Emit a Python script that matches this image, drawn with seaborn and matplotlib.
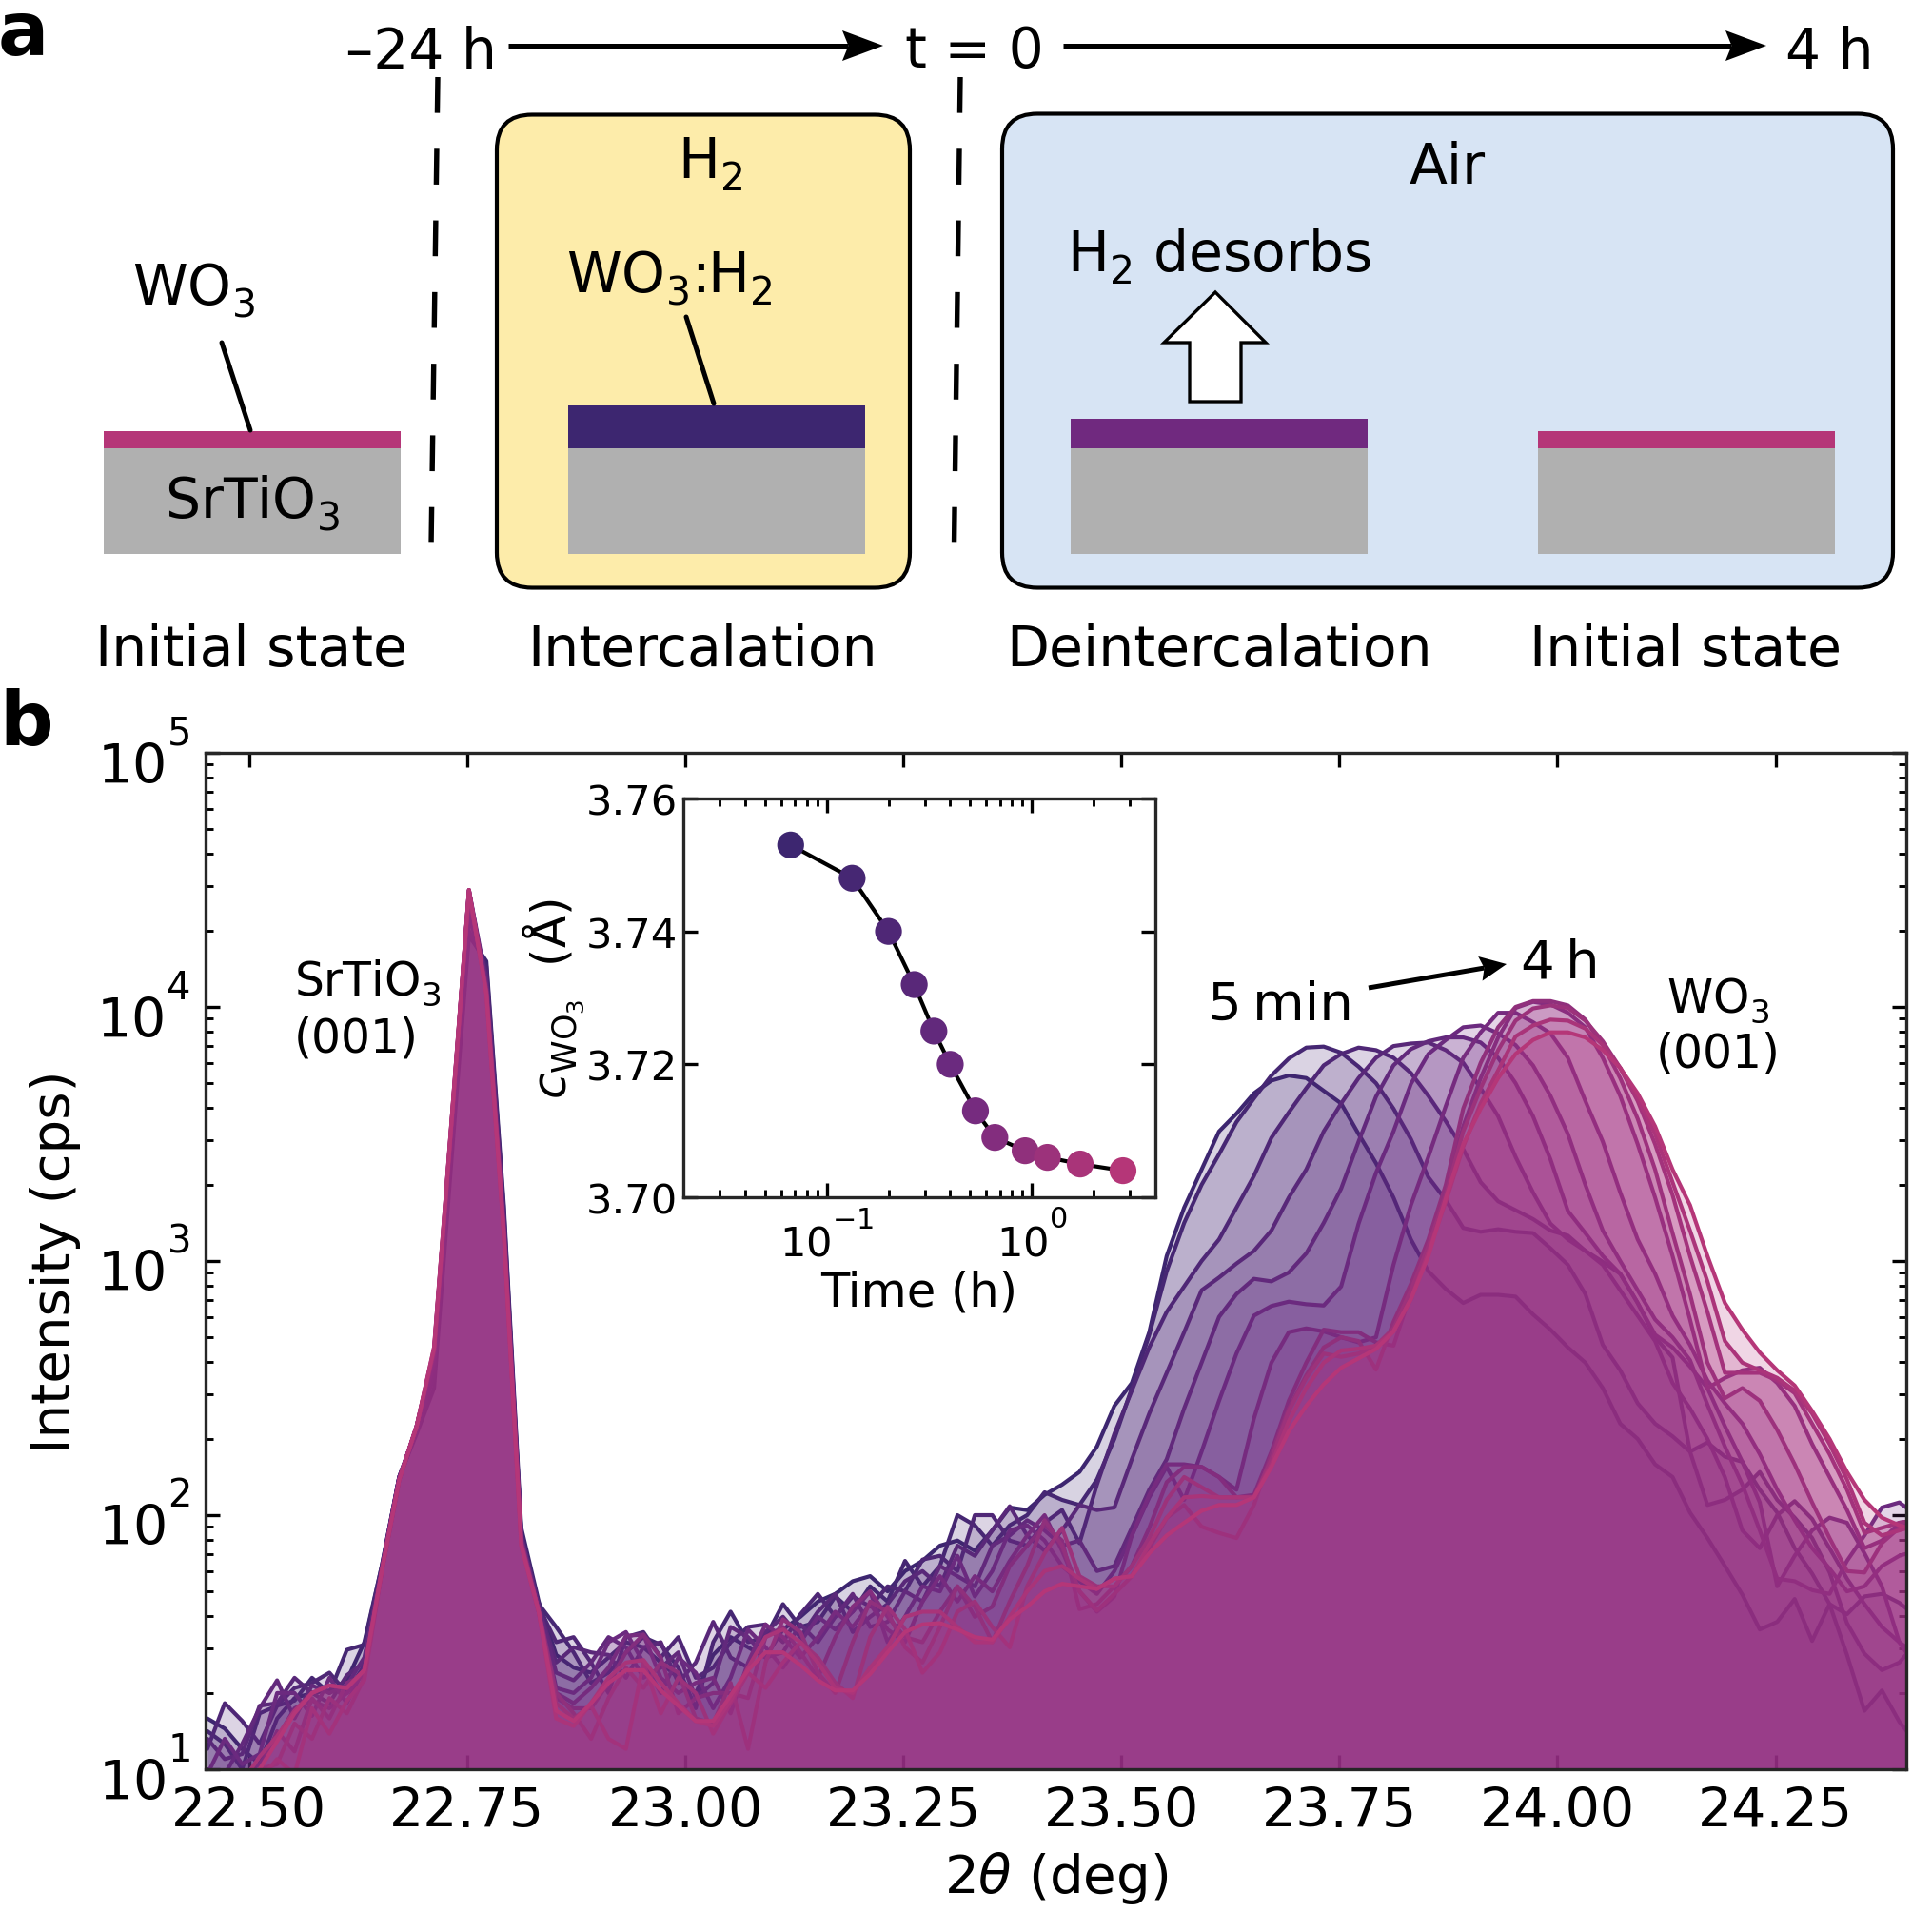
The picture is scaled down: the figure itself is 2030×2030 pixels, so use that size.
import numpy as np
import seaborn as sns
from matplotlib import _mathtext
from matplotlib import pyplot as plt
from matplotlib.patches import FancyBboxPatch, Polygon, Rectangle
from matplotlib.ticker import LogLocator, NullFormatter

# scan grid in 2theta (deg), 0.02 deg step
two_theta = np.linspace(22.452, 24.412, 99)

# log10(cps), split as: left floor, STO peak, floor, WO3 peak + tail
log_s0 = [1.20, 1.16, 1.08, 1.02, 1.20, 1.28, 1.30, 1.31, 1.35, 1.50,
          1.80, 2.15, 2.32, 2.50, 3.40, 4.28, 4.18, 3.22, 1.95, 1.66,
          1.45, 1.40, 1.38, 1.44, 1.50, 1.48, 1.42, 1.36, 1.30, 1.45, 1.52, 1.48, 1.44, 1.55, 1.60,
          1.66, 1.69, 1.74, 1.76, 1.70, 1.78, 1.82, 1.88, 1.90, 1.86, 1.94, 2.03, 2.02, 2.08, 2.12,
          2.17, 2.27, 2.43, 2.52, 2.72, 3.02, 3.21, 3.36, 3.51, 3.58, 3.66, 3.71, 3.73, 3.72, 3.67, 3.62, 3.50,
          3.385, 3.25, 3.085, 2.96, 2.89, 2.835, 2.867, 2.867, 2.86, 2.79, 2.73, 2.66, 2.60, 2.50, 2.36, 2.30,
          2.20, 2.15, 2.01, 1.91, 1.80, 1.687, 1.55, 1.58, 1.67, 1.505, 1.65, 1.45, 1.23, 1.31, 1.187, 1.10]
log_s1 = [1.15, 1.10, 1.00, 1.22, 1.25, 1.27, 1.36, 1.30, 1.47, 1.49,
          1.80, 2.15, 2.33, 2.55, 3.45, 4.30, 4.16, 3.20, 1.93, 1.65,
          1.56, 1.46, 1.34, 1.38, 1.46, 1.52, 1.49, 1.40, 1.24, 1.50, 1.62, 1.50, 1.52, 1.65, 1.56,
          1.58, 1.68, 1.62, 1.72, 1.66, 1.82, 1.72, 1.80, 2.00, 1.96, 1.88, 1.96, 2.00, 2.09, 2.06,
          2.04, 2.14, 2.30, 2.50, 2.71, 2.96, 3.15, 3.30, 3.42, 3.547, 3.64, 3.73, 3.797, 3.84, 3.844, 3.82, 3.765,
          3.70, 3.60, 3.48, 3.33, 3.24, 3.13, 3.115, 3.125, 3.115, 3.11, 3.05, 2.985, 2.87, 2.67, 2.57, 2.44,
          2.36, 2.31, 2.25, 2.286, 2.23, 2.21, 2.10, 2.01, 1.87, 1.77, 1.65, 1.61, 1.68, 1.69, 1.655, 1.60]
log_s2 = [1.08, 1.26, 1.19, 1.10, 1.25, 1.32, 1.34, 1.38, 1.30, 1.41,
          1.79, 2.15, 2.33, 2.58, 3.48, 4.35, 4.14, 3.18, 1.92, 1.64,
          1.50, 1.52, 1.42, 1.30, 1.52, 1.54, 1.44, 1.52, 1.36, 1.40, 1.50, 1.56, 1.57, 1.50, 1.61,
          1.69, 1.60, 1.68, 1.64, 1.72, 1.70, 1.825, 1.84, 1.78, 2.00, 2.00, 1.90, 1.88, 1.97, 2.02,
          1.89, 2.12, 2.32, 2.49, 2.66, 2.80, 2.90, 3.00, 3.085, 3.21, 3.335, 3.485, 3.585, 3.68, 3.77, 3.815, 3.84,
          3.83, 3.80, 3.74, 3.65, 3.55, 3.44, 3.31, 3.235, 3.20, 3.165, 3.12, 3.10, 3.04, 2.997, 2.95, 2.835,
          2.70, 2.62, 2.25, 2.04, 2.06, 2.10, 2.17, 2.06, 1.99, 1.91, 1.775, 1.575, 1.455, 1.39, 1.42, 1.50]
log_s3 = [1.12, 1.04, 1.06, 1.25, 1.26, 1.36, 1.30, 1.26, 1.37, 1.42,
          1.79, 2.15, 2.34, 2.60, 3.50, 4.40, 4.12, 3.16, 1.92, 1.64,
          1.42, 1.48, 1.46, 1.45, 1.36, 1.48, 1.50, 1.34, 1.42, 1.58, 1.44, 1.40, 1.54, 1.60, 1.52,
          1.62, 1.69, 1.54, 1.60, 1.65, 1.74, 1.78, 1.72, 1.88, 1.84, 1.94, 2.035, 1.92, 1.86, 1.94,
          2.04, 2.02, 2.03, 2.22, 2.40, 2.56, 2.72, 2.885, 2.935, 2.99, 3.04, 3.12, 3.25, 3.36, 3.51, 3.62, 3.72,
          3.80, 3.846, 3.856, 3.86, 3.83, 3.78, 3.68, 3.57, 3.41, 3.27, 3.147, 3.085, 3.04, 2.985, 2.885, 2.785,
          2.685, 2.52, 2.42, 2.30, 2.15, 1.94, 1.87, 2.00, 2.055, 1.985, 1.87, 1.75, 1.65, 1.56, 1.50, 1.45]
log_s4 = [1.00, 0.98, 1.10, 1.24, 1.35, 1.20, 1.33, 1.30, 1.33, 1.44,
          1.79, 2.15, 2.34, 2.62, 3.52, 4.46, 4.10, 3.15, 1.91, 1.64,
          1.38, 1.35, 1.42, 1.52, 1.48, 1.36, 1.40, 1.46, 1.28, 1.34, 1.56, 1.52, 1.44, 1.46, 1.57,
          1.50, 1.60, 1.69, 1.56, 1.58, 1.70, 1.66, 1.80, 1.76, 1.72, 1.88, 1.92, 1.98, 1.94, 1.88,
          1.90, 1.78, 1.80, 1.95, 2.10, 2.22, 2.42, 2.60, 2.78, 2.87, 2.93, 2.92, 2.955, 3.03, 3.15, 3.285, 3.47,
          3.647, 3.77, 3.834, 3.865, 3.88, 3.88, 3.86, 3.80, 3.70, 3.57, 3.40, 3.197, 3.11, 3.02, 2.95, 2.835,
          2.71, 2.66, 2.585, 2.50, 2.35, 2.21, 2.05, 1.72, 1.84, 1.94, 1.99, 1.97, 1.85, 1.72, 1.50, 1.40]
log_s5 = [0.98, 1.12, 1.02, 1.06, 1.30, 1.30, 1.21, 1.36, 1.26, 1.40,
          1.78, 2.14, 2.35, 2.63, 3.52, 4.45, 4.09, 3.14, 1.91, 1.63,
          1.32, 1.30, 1.36, 1.50, 1.54, 1.42, 1.30, 1.44, 1.38, 1.24, 1.36, 1.55, 1.48, 1.40, 1.50,
          1.60, 1.55, 1.62, 1.70, 1.50, 1.60, 1.72, 1.70, 1.84, 1.68, 1.78, 1.94, 1.96, 1.90, 1.80,
          1.74, 1.69, 1.78, 1.92, 2.07, 2.19, 2.06, 2.25, 2.45, 2.636, 2.785, 2.823, 2.84, 2.83, 2.825, 2.90, 3.147,
          3.347, 3.51, 3.697, 3.815, 3.87, 3.92, 3.927, 3.896, 3.85, 3.77, 3.65, 3.50, 3.30, 3.12, 3.00, 2.885,
          2.77, 2.70, 2.61, 2.435, 2.27, 2.12, 1.94, 1.75, 1.74, 1.705, 1.69, 1.82, 1.92, 2.03, 2.05, 2.00]
log_s6 = [0.95, 0.90, 0.98, 1.02, 1.12, 1.24, 1.27, 1.24, 1.30, 1.38,
          1.78, 2.14, 2.35, 2.64, 3.53, 4.46, 4.08, 3.13, 1.90, 1.62,
          1.30, 1.26, 1.32, 1.40, 1.525, 1.53, 1.36, 1.30, 1.34, 1.36, 1.22, 1.42, 1.57, 1.52, 1.44,
          1.52, 1.62, 1.56, 1.65, 1.55, 1.50, 1.66, 1.76, 1.66, 1.76, 1.70, 1.82, 1.92, 2.00, 1.86,
          1.70, 1.62, 1.68, 1.92, 2.08, 2.20, 2.20, 2.19, 2.15, 2.10, 2.38, 2.60, 2.72, 2.735, 2.723, 2.70, 2.68,
          2.70, 2.985, 3.22, 3.41, 3.61, 3.80, 3.90, 3.977, 3.977, 3.94, 3.896, 3.80, 3.63, 3.47, 3.27, 3.085,
          2.95, 2.785, 2.67, 2.53, 2.44, 2.36, 2.24, 2.10, 1.98, 1.87, 1.79, 1.70, 1.72, 1.80, 1.84, 1.86]
log_s7 = [0.90, 0.98, 0.94, 0.99, 1.15, 1.07, 1.28, 1.20, 1.34, 1.37,
          1.78, 2.14, 2.35, 2.64, 3.54, 4.44, 4.07, 3.12, 1.90, 1.62,
          1.28, 1.24, 1.24, 1.34, 1.46, 1.53, 1.44, 1.22, 1.28, 1.30, 1.30, 1.28, 1.52, 1.56, 1.46,
          1.36, 1.52, 1.64, 1.70, 1.60, 1.52, 1.50, 1.62, 1.72, 1.60, 1.64, 1.80, 1.88, 1.96, 1.90,
          1.63, 1.65, 1.72, 1.80, 1.95, 2.13, 2.19, 2.19, 2.15, 2.07, 2.08, 2.25, 2.45, 2.60, 2.73, 2.72, 2.72,
          2.68, 2.667, 2.873, 3.05, 3.27, 3.53, 3.72, 3.88, 3.996, 4.02, 4.01, 3.977, 3.92, 3.80, 3.65, 3.46,
          3.25, 3.02, 2.77, 2.50, 2.54, 2.57, 2.58, 2.52, 2.43, 2.28, 2.15, 2.02, 1.87, 1.90, 1.97, 1.98]
log_s8 = [0.92, 0.94, 0.90, 1.00, 1.02, 1.18, 1.12, 1.28, 1.22, 1.36,
          1.78, 2.14, 2.35, 2.65, 3.54, 4.46, 4.06, 3.12, 1.89, 1.62,
          1.30, 1.22, 1.12, 1.28, 1.40, 1.32, 1.42, 1.38, 1.20, 1.18, 1.34, 1.08, 1.42, 1.59, 1.54,
          1.38, 1.30, 1.50, 1.66, 1.62, 1.48, 1.42, 1.56, 1.72, 1.64, 1.50, 1.66, 1.80, 1.98, 1.88,
          1.70, 1.625, 1.69, 1.76, 1.87, 1.99, 2.04, 1.955, 1.93, 1.91, 2.04, 2.24, 2.42, 2.55, 2.66, 2.70, 2.685,
          2.573, 2.76, 2.91, 3.085, 3.30, 3.60, 3.78, 3.92, 4.00, 4.023, 4.023, 4.006, 3.95, 3.85, 3.72, 3.56,
          3.36, 3.11, 2.87, 2.60, 2.46, 2.50, 2.45, 2.335, 2.20, 2.05, 1.91, 1.78, 1.774, 1.89, 1.95, 1.98]
log_s9 = [0.88, 0.90, 0.92, 0.96, 1.04, 0.98, 1.24, 1.14, 1.27, 1.35,
          1.78, 2.14, 2.35, 2.65, 3.55, 4.45, 4.06, 3.11, 1.89, 1.62,
          1.26, 1.20, 1.25, 1.12, 1.08, 1.42, 1.22, 1.36, 1.30, 1.14, 1.26, 1.38, 1.32, 1.42, 1.50,
          1.44, 1.34, 1.28, 1.52, 1.64, 1.55, 1.38, 1.46, 1.62, 1.66, 1.56, 1.48, 1.72, 1.85, 1.95,
          1.76, 1.72, 1.72, 1.80, 1.91, 2.06, 2.15, 2.11, 2.07, 2.07, 2.07, 2.22, 2.41, 2.54, 2.636, 2.623, 2.636,
          2.667, 2.735, 2.885, 3.06, 3.26, 3.51, 3.68, 3.83, 3.946, 3.994, 4.006, 3.996, 3.946, 3.865, 3.76, 3.63,
          3.46, 3.26, 3.02, 2.80, 2.56, 2.56, 2.56, 2.53, 2.48, 2.36, 2.24, 2.10, 1.93, 1.95, 1.97, 1.98]
log_s10 = [0.80, 0.88, 0.95, 1.05, 1.13, 1.23, 1.30, 1.33, 1.32, 1.39,
           1.78, 2.14, 2.35, 2.66, 3.55, 4.46, 4.05, 3.11, 1.88, 1.62,
           1.20, 1.17, 1.26, 1.36, 1.42, 1.43, 1.34, 1.26, 1.19, 1.17, 1.27, 1.40, 1.52, 1.55, 1.50,
           1.42, 1.32, 1.30, 1.40, 1.48, 1.60, 1.62, 1.62, 1.56, 1.50, 1.50, 1.60, 1.70, 1.78, 1.80,
           1.75, 1.71, 1.75, 1.76, 1.885, 1.99, 2.07, 2.075, 2.07, 2.07, 2.07, 2.20, 2.37, 2.50, 2.60, 2.648, 2.655,
           2.667, 2.723, 2.85, 3.035, 3.235, 3.45, 3.62, 3.75, 3.884, 3.927, 3.95, 3.946, 3.915, 3.85, 3.76, 3.64,
           3.50, 3.31, 3.12, 2.92, 2.685, 2.60, 2.57, 2.54, 2.49, 2.40, 2.28, 2.14, 1.97, 1.92, 1.94, 1.96]
log_s11 = [0.80, 0.88, 0.95, 1.00, 1.11, 1.22, 1.30, 1.33, 1.32, 1.39,
           1.78, 2.14, 2.35, 2.66, 3.55, 4.46, 4.05, 3.10, 1.88, 1.62,
           1.23, 1.19, 1.26, 1.34, 1.39, 1.39, 1.31, 1.25, 1.19, 1.19, 1.29, 1.39, 1.46, 1.46, 1.41,
           1.35, 1.31, 1.31, 1.375, 1.46, 1.54, 1.57, 1.575, 1.55, 1.52, 1.51, 1.59, 1.64, 1.70, 1.73,
           1.72, 1.71, 1.75, 1.76, 1.85, 1.92, 1.97, 2.017, 2.04, 2.04, 2.07, 2.19, 2.33, 2.43, 2.515, 2.58, 2.617,
           2.654, 2.723, 2.85, 3.02, 3.247, 3.46, 3.60, 3.72, 3.815, 3.87, 3.90, 3.90, 3.88, 3.83, 3.76, 3.66,
           3.53, 3.36, 3.22, 3.02, 2.835, 2.73, 2.64, 2.57, 2.51, 2.41, 2.30, 2.17, 2.06, 1.99, 1.96, 1.94]
all_scans = [log_s0, log_s1, log_s2, log_s3, log_s4, log_s5,
             log_s6, log_s7, log_s8, log_s9, log_s10, log_s11]

# inset: out-of-plane lattice parameter vs time
time_h = [0.0667, 0.133, 0.2, 0.267, 0.333, 0.4, 0.531, 0.66, 0.927, 1.19, 1.72, 2.78]
c_wo3 = [3.753, 3.748, 3.740, 3.732, 3.725, 3.720, 3.713, 3.709, 3.707, 3.706, 3.705, 3.704]

sns.set_style('ticks')
plt.rcParams['font.family'] = ['DejaVu Sans']
plt.rcParams['mathtext.default'] = 'regular'
plt.rcParams['text.color'] = 'black'
plt.rcParams['axes.labelcolor'] = 'black'
plt.rcParams['xtick.color'] = 'black'
plt.rcParams['ytick.color'] = 'black'
# the reference sets its exponents higher and its subscripts lower than mathtext does now
_mathtext.DejaVuSansFontConstants.sup1 = 1.3
_mathtext.DejaVuSansFontConstants.sub1 = 0.42
_mathtext.DejaVuSansFontConstants.subdrop = 0.5

colors = sns.blend_palette(['#3d2670', '#702a80', '#b53678'], 12)
fill_colors = sns.blend_palette(['#3d2670', '#782b89', '#b83680'], 12)
PINK, DARK, MID, GREY = '#b53678', '#3d2670', '#70297f', '#b0b0b0'
W = 2031

fig = plt.figure(figsize=(W / 300, W / 300), dpi=300)


def ax_rect(left, top, right, bottom):
    return [left / W, 1 - bottom / W, (right - left) / W, (bottom - top) / W]


# panel a and the annotations are drawn in figure pixels on a full-size blank axes, on top
sch = fig.add_axes([0, 0, 1, 1], zorder=10)
sch.set_xlim(0, W)
sch.set_ylim(W, 0)
sch.axis('off')


def arrow(x0, y0, x1, y1, length, width):
    # line with a stealth head, the back of the head is notched
    ux, uy = (x1 - x0), (y1 - y0)
    norm = np.hypot(ux, uy)
    ux, uy = ux / norm, uy / norm
    bx, by = x1 - ux * length, y1 - uy * length
    nx, ny = bx + ux * length * 0.15, by + uy * length * 0.15
    sch.plot((x0, nx), (y0, ny), color='black', lw=1.2, solid_capstyle='butt')
    sch.add_patch(Polygon([(x1, y1), (bx - uy * width / 2, by + ux * width / 2), (nx, ny),
                           (bx + uy * width / 2, by - ux * width / 2)], closed=True, fc='black', ec='none'))


sch.add_patch(FancyBboxPatch((559, 158.5), 360, 423, boxstyle='round,pad=37,rounding_size=37',
                             fc='#fdecaa', ec='black', lw=1.0))
sch.add_patch(FancyBboxPatch((1090, 157.5), 862, 424, boxstyle='round,pad=37,rounding_size=37',
                             fc='#d7e4f4', ec='black', lw=1.0))

# (left, film top, film colour) of the four samples
for left, film_top, film_col in [(109, 454, PINK), (597, 427, DARK), (1125, 441, MID), (1616, 454, PINK)]:
    sch.add_patch(Rectangle((left, 472), 312, 111, fc=GREY, ec='none'))
    sch.add_patch(Rectangle((left, film_top), 312, 472 - film_top, fc=film_col, ec='none'))

for xs in [(460, 453), (1009, 1002.5)]:
    sch.plot(xs, (82, 576), color='black', lw=1.3, linestyle=(0, (6.95, 6.95)))
sch.plot((233, 263), (361, 453), color='black', lw=1.2, solid_capstyle='round')
sch.plot((721, 750), (334, 425), color='black', lw=1.2, solid_capstyle='round')

arrow(534, 49, 928, 49, 43, 32)
arrow(1117, 49, 1856, 49, 43, 32)
arrow(1438, 1039, 1583, 1014, 28, 26)
sch.add_patch(Polygon([(1277, 308), (1330, 361), (1304, 361), (1304, 423), (1250, 423), (1250, 361), (1223, 361)],
                      closed=True, fc='white', ec='black', lw=0.8))

FS = 14
sch.text(522, 49, '–24 h', fontsize=FS, ha='right', va='center_baseline')
sch.text(1024, 49, 't = 0', fontsize=FS, ha='center', va='center_baseline')
sch.text(1922, 49, '4 h', fontsize=FS, ha='center', va='center_baseline')
for x, base, s in [(203, 320, 'WO$_3$'), (265, 544, 'SrTiO$_3$'), (746, 188, 'H$_2$'),
                   (703, 307, 'WO$_3$:H$_2$'), (1521, 193, 'Air'), (1281, 286, 'H$_2$ desorbs'),
                   (264, 700, 'Initial state'), (738, 700, 'Intercalation'),
                   (1281, 700, 'Deintercalation'), (1771, 700, 'Initial state')]:
    sch.text(x, base, s, fontsize=FS, ha='center', va='baseline')
sch.text(-2, 58, 'a', fontsize=19, fontweight='bold', va='baseline')
sch.text(-1, 783, 'b', fontsize=19, fontweight='bold', va='baseline')
sch.text(309, 1046, 'SrTiO$_3$', fontsize=11.7, va='baseline')
sch.text(309, 1105, '(001)', fontsize=11.7, va='baseline')
sch.text(1805, 1064, 'WO$_3$', fontsize=11.7, ha='center', va='baseline')
sch.text(1805, 1121, '(001)', fontsize=11.7, ha='center', va='baseline')
sch.text(1345, 1072, '5\u2009min', fontsize=13.5, ha='center', va='baseline')
sch.text(1639, 1028, '4\u2009h', fontsize=13.5, ha='center', va='baseline')

# panel b
ax = fig.add_axes(ax_rect(216, 792, 2003, 1860))
ax.set_yscale('log')
for k, scan in enumerate(all_scans):
    cps = 10 ** np.array(scan)
    ax.fill_between(two_theta, 10, cps, color=fill_colors[k], alpha=0.2, linewidth=0, zorder=2 * k + 1)
    sns.lineplot(x=two_theta, y=cps, ax=ax, color=colors[k], lw=1.0, zorder=2 * k + 2, errorbar=None)

ax.set_xlim(22.45, 24.4)
ax.set_ylim(10, 1e5)
ax.set_xticks([22.5, 22.75, 23.0, 23.25, 23.5, 23.75, 24.0, 24.25])
ax.set_xticklabels(['22.50', '22.75', '23.00', '23.25', '23.50', '23.75', '24.00', '24.25'])
ax.yaxis.set_major_locator(LogLocator(base=10, numticks=6))
ax.yaxis.set_minor_locator(LogLocator(base=10, subs=range(2, 10), numticks=12))
ax.yaxis.set_minor_formatter(NullFormatter())
ax.tick_params(axis='both', which='major', direction='in', top=True, right=True, length=3.5, width=0.8,
               labelsize=13.7, pad=4)
ax.tick_params(axis='y', which='minor', direction='in', left=True, right=True, length=2, width=0.7)
ax.set_xlabel(r'2$\mathit{\theta}$ (deg)', fontsize=13.5, labelpad=3)
ax.set_ylabel('Intensity (cps)', fontsize=13.5, labelpad=3)
ax.yaxis.set_label_coords(-0.0735, 0.5)
for side in ax.spines.values():
    side.set_linewidth(0.8)
    side.set_zorder(40)

# inset
ins = fig.add_axes(ax_rect(718, 840, 1214, 1259), zorder=5)
ins.set_xscale('log')
sns.lineplot(x=time_h, y=c_wo3, ax=ins, color='black', lw=1.0, errorbar=None, zorder=2)
sns.scatterplot(x=time_h, y=c_wo3, ax=ins, hue=list(range(12)), palette=colors, legend=False,
                s=46, linewidth=0, zorder=3)
ins.set_xlim(0.02, 4)
ins.set_ylim(3.70, 3.76)
ins.set_yticks([3.70, 3.72, 3.74, 3.76])
ins.set_yticklabels(['3.70', '3.72', '3.74', '3.76'])
ins.xaxis.set_major_locator(LogLocator(base=10, numticks=5))
ins.xaxis.set_minor_locator(LogLocator(base=10, subs=range(2, 10), numticks=10))
ins.xaxis.set_minor_formatter(NullFormatter())
ins.tick_params(axis='both', which='major', direction='in', top=True, right=True, length=3.5, width=0.8,
                labelsize=10.4, pad=1.5)
ins.tick_params(axis='x', which='major', pad=3.5)
ins.tick_params(axis='x', which='minor', direction='in', top=True, bottom=True, length=2, width=0.7)
ins.set_xlabel('Time (h)', fontsize=11.9, labelpad=1)
ins.set_ylabel(r'$\mathit{c}_{\mathrm{WO}_3}$  (Å)', fontsize=12, labelpad=2)
ins.yaxis.set_label_coords(-0.205, 0.5)
for side in ins.spines.values():
    side.set_linewidth(0.8)

fig.savefig('out.png', dpi=300)
